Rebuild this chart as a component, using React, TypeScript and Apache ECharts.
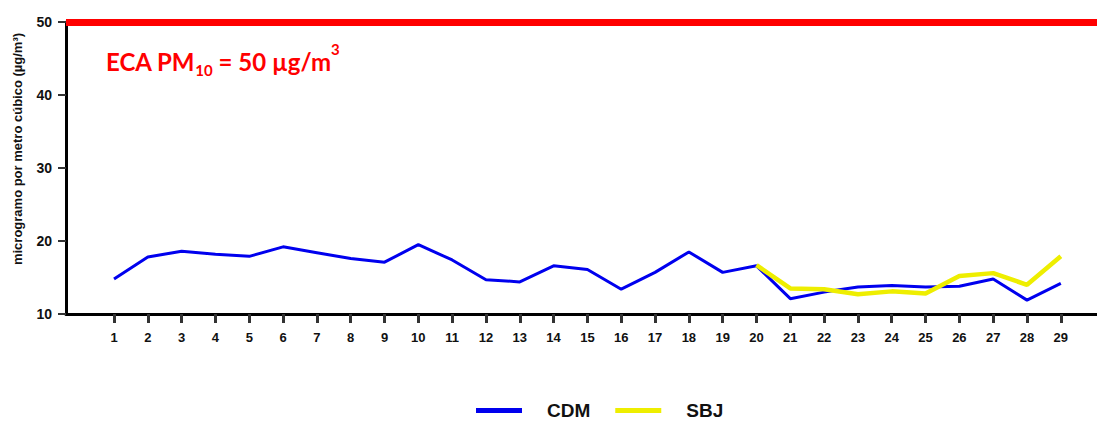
import React, { useEffect, useRef } from "react";
import * as echarts from "echarts";

const days = [1,2,3,4,5,6,7,8,9,10,11,12,13,14,15,16,17,18,19,20,21,22,23,24,25,26,27,28,29];
const cdm = [14.8,17.8,18.6,18.2,17.9,19.2,18.4,17.6,17.1,19.5,17.4,14.7,14.4,16.6,16.1,13.4,15.7,18.5,15.7,16.6,12.1,13.0,13.7,13.9,13.7,13.8,14.8,11.9,14.2];
const sbj = [null,null,null,null,null,null,null,null,null,null,null,null,null,null,null,null,null,null,null,16.7,13.5,13.4,12.7,13.1,12.8,15.2,15.6,14.0,17.9];
const yTicks = [10,20,30,40,50];
const limit = 50;
const yTitle = "microgramo por metro cúbico (µg/m³)";

export default function App() {
  const ref = useRef<HTMLDivElement>(null);
  useEffect(() => {
    const chart = echarts.init(ref.current!, null, { renderer: "svg" });
    const font = "'Liberation Sans', Arial, sans-serif";
    const lato = "Lato, 'Open Sans', sans-serif";
    chart.setOption({
      animation: false,
      backgroundColor: "#ffffff",
      grid: { left: 66, right: 0, top: 22, bottom: 107 },
      legend: {
        left: 476,
        top: 401,
        padding: 0,
        itemWidth: 46,
        itemHeight: 5,
        itemGap: 25,
        icon: "rect",
        data: ["CDM", "SBJ"],
        textStyle: { fontFamily: font, fontWeight: "bold", fontSize: 19, lineHeight: 19, color: "#111", padding: [0, 0, 0, 20] },
      },
      xAxis: {
        type: "value",
        min: -0.42,
        max: 30.07,
        splitLine: { show: false },
        axisLine: { show: true, onZero: false, lineStyle: { color: "#000", width: 3 } },
        axisTick: { show: true, customValues: days, length: 9, lineStyle: { color: "#333", width: 3 } },
        axisLabel: { customValues: days, margin: 17, fontFamily: font, fontWeight: "bold", fontSize: 13, color: "#111" },
      },
      yAxis: {
        type: "value",
        min: 10,
        max: 50,
        interval: 10,
        splitLine: { show: false },
        axisLine: { show: true, onZero: false, lineStyle: { color: "#000", width: 3 } },
        axisTick: { show: true, length: 8, lineStyle: { color: "#333", width: 2 } },
        axisLabel: { margin: 14, fontFamily: font, fontWeight: "bold", fontSize: 14, color: "#111",
          customValues: yTicks },
      },
      series: [
        {
          name: "CDM",
          type: "line",
          data: days.map((d, i) => [d, cdm[i]]),
          symbol: "none",
          lineStyle: { color: "#0000ee", width: 3 },
          itemStyle: { color: "#0000ee" },
          markLine: {
            silent: true,
            symbol: ["none", "none"],
            label: { show: false },
            lineStyle: { color: "#ff0000", width: 7, type: "solid" },
            data: [{ yAxis: limit }],
          },
          z: 2,
        },
        {
          name: "SBJ",
          type: "line",
          data: days.map((d, i) => [d, sbj[i]]),
          symbol: "none",
          connectNulls: false,
          lineStyle: { color: "#eeee00", width: 4.5 },
          itemStyle: { color: "#eeee00" },
          z: 3,
        },
      ],
      graphic: [
        {
          type: "text",
          x: 17,
          y: 149,
          rotation: Math.PI / 2,
          style: {
            text: yTitle,
            fontFamily: font,
            fontWeight: "bold",
            fontSize: 13,
            fill: "#111",
            align: "center",
            verticalAlign: "middle",
          },
        },
        {
          type: "text",
          left: 106,
          top: 41,
          style: {
            text: "{a|ECA PM}{s|10}{a| = 50 µg/m}{p|3}",
            rich: {
              a: { fontFamily: lato, fontWeight: "bold", fontSize: 24, fill: "#ff0000", lineHeight: 32, verticalAlign: "bottom" },
              s: { fontFamily: lato, fontWeight: "bold", fontSize: 15, fill: "#ff0000", lineHeight: 32, verticalAlign: "bottom", padding: [0, 0, -4, 0] },
              p: { fontFamily: lato, fontWeight: "bold", fontSize: 15, fill: "#ff0000", lineHeight: 32, verticalAlign: "top" },
            },
          },
        },
      ],
    });
    return () => chart.dispose();
  }, []);
  return <div ref={ref} style={{ position: "fixed", left: 0, top: 0, width: 1097, height: 421 }} />;
}
